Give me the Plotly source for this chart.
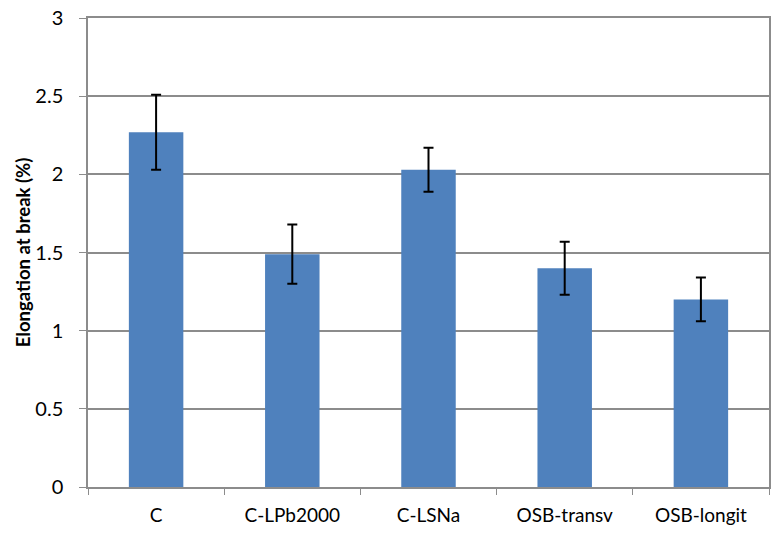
import plotly.graph_objects as go

categories = ['C', 'C-LPb2000', 'C-LSNa', 'OSB-transv', 'OSB-longit']
elongation = [2.27, 1.49, 2.03, 1.40, 1.20]
error = [0.24, 0.19, 0.14, 0.17, 0.14]
y_ticks = [0, 0.5, 1, 1.5, 2, 2.5, 3]

BAR_COLOR = '#4F81BD'
GRID_COLOR = '#8C8C8C'
FONT = 'Lato'

fig = go.Figure()

fig.add_trace(go.Bar(x=categories,
                     y=elongation,
                     marker=dict(color=BAR_COLOR, line=dict(width=0)),
                     error_y=dict(type='data', array=error, visible=True,
                                  color='black', thickness=2, width=5)))

fig.update_layout(width=781, height=538,
                  font=dict(family=FONT, size=19, color='black'),
                  plot_bgcolor='white',
                  paper_bgcolor='white',
                  bargap=0.6,
                  showlegend=False,
                  margin=dict(l=88, r=12, t=18, b=51),
                  xaxis=dict(type='category',
                             automargin=False,
                             showgrid=False,
                             showline=True,
                             mirror=True,
                             linecolor=GRID_COLOR,
                             linewidth=1.5,
                             ticks='outside',
                             tickson='boundaries',
                             ticklen=6,
                             tickcolor=GRID_COLOR,
                             ticklabelstandoff=10,
                             tickfont=dict(size=19)),
                  yaxis=dict(range=[0, 3.001],
                             automargin=False,
                             tickvals=y_ticks,
                             ticktext=[f'{v:g}' for v in y_ticks],
                             ticklabeloverflow='allow',
                             showgrid=True,
                             gridcolor=GRID_COLOR,
                             gridwidth=1.5,
                             zeroline=False,
                             showline=True,
                             mirror=True,
                             linecolor=GRID_COLOR,
                             linewidth=1.5,
                             ticks='outside',
                             ticklen=7,
                             tickcolor=GRID_COLOR,
                             ticklabelstandoff=12,
                             tickfont=dict(size=20),
                             title=dict(text='<b>Elongation at break (%)</b>',
                                        font=dict(size=18.5),
                                        standoff=0)))

# drop the default body margin so the figure sits at the page corner
fig.write_html("out.html",
               config={'displayModeBar': False},
               post_script="document.body.style.margin='0';")
